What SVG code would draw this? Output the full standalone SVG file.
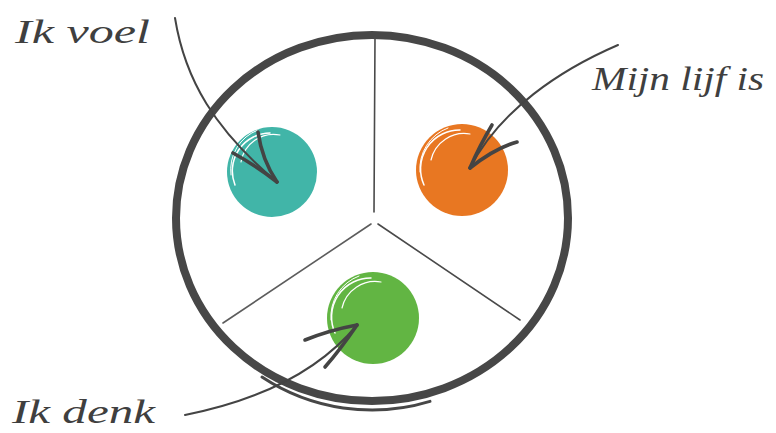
<svg xmlns="http://www.w3.org/2000/svg" width="776" height="433" viewBox="0 0 776 433">
<style>
.lbl{font-family:"Liberation Serif","DejaVu Serif",serif;font-style:italic;font-size:34px;fill:#3f3f3f}
.div{stroke:#4a4a4a;stroke-width:1.6;fill:none;stroke-linecap:round}
.shaft{stroke:#444;stroke-width:2;fill:none;stroke-linecap:round}
.barb{stroke:#444;stroke-width:3.6;fill:none;stroke-linecap:round}
.hl{stroke:#fff;fill:none;stroke-linecap:round}
</style>
<rect width="776" height="433" fill="#fff"/>
<g id="wheel">
<ellipse cx="372" cy="218" rx="196" ry="183" fill="none" stroke="#474747" stroke-width="8"/>
<path d="M262 377 A196 192 0 0 0 430 401.4" fill="none" stroke="#474747" stroke-width="3" stroke-linecap="round"/>
<path d="M375 37 L374 212" class="div"/>
<path d="M371 224 L223 323" class="div" stroke-opacity="0.9"/>
<path d="M378 224 L520 320" class="div"/>
</g>
<g id="voel-blob">
<circle cx="272" cy="172" r="45" fill="#41b5a8"/>
<path d="M235 185 A38 38 0 0 1 270 133" class="hl" stroke-width="1.5"/>
<path d="M241 162 A33 33 0 0 1 280 135" class="hl" stroke-width="1.2"/>
<path d="M231 175 A42 42 0 0 1 258 130" class="hl" stroke-width="1"/>
</g>
<g id="lijf-blob">
<circle cx="462" cy="170" r="46" fill="#e87722"/>
<path d="M424 185 A39 39 0 0 1 460 130" class="hl" stroke-width="1.5"/>
<path d="M431 160 A34 34 0 0 1 470 134" class="hl" stroke-width="1.2"/>
<path d="M420 172 A43 43 0 0 1 448 128" class="hl" stroke-width="1"/>
</g>
<g id="denk-blob">
<circle cx="373" cy="318" r="46" fill="#62b543"/>
<path d="M335 333 A39 39 0 0 1 371 278" class="hl" stroke-width="1.5"/>
<path d="M342 308 A34 34 0 0 1 381 282" class="hl" stroke-width="1.2"/>
<path d="M331 320 A43 43 0 0 1 359 276" class="hl" stroke-width="1"/>
</g>
<g id="connectors">
<path d="M175 18 C185 80 215 130 277 182" class="shaft"/>
<path d="M277 182 Q262 160 258 132" class="barb"/>
<path d="M277 182 Q255 165 233 153" class="barb"/>
<path d="M618 45 C560 70 500 110 470 168" class="shaft"/>
<path d="M470 168 Q480 145 492 125" class="barb"/>
<path d="M470 168 Q495 148 517 142" class="barb"/>
<path d="M185 415 C260 400 320 370 357 325" class="shaft"/>
<path d="M357 325 Q330 330 305 340" class="barb"/>
<path d="M357 325 Q340 350 325 367" class="barb"/>
</g>
<g id="label-voel"><text x="15" y="43" class="lbl" textLength="135" lengthAdjust="spacingAndGlyphs">Ik voel</text></g>
<g id="label-lijf"><text x="592" y="90" class="lbl" textLength="172" lengthAdjust="spacingAndGlyphs">Mijn lijf is</text></g>
<g id="label-denk"><text x="12" y="423" class="lbl" textLength="143" lengthAdjust="spacingAndGlyphs">Ik denk</text></g>
</svg>
